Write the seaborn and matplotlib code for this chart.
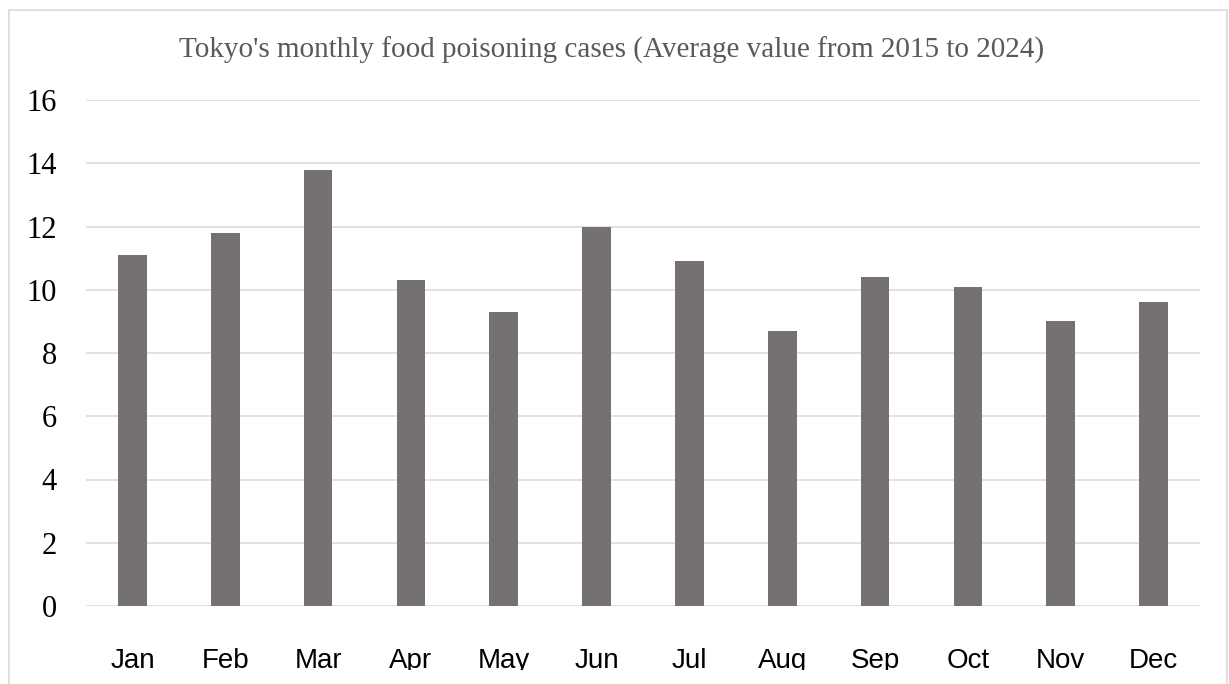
import matplotlib
matplotlib.use("Agg")
import matplotlib.pyplot as plt
import seaborn as sns
import pandas as pd
from matplotlib.patches import Rectangle

# Datos
months = ["Jan", "Feb", "Mar", "Apr", "May", "Jun",
          "Jul", "Aug", "Sep", "Oct", "Nov", "Dec"]
cases = [11.1, 11.8, 13.8, 10.3, 9.3, 12.0, 10.9, 8.7, 10.4, 10.1, 9.0, 9.6]
y_ticks = [0, 2, 4, 6, 8, 10, 12, 14, 16]
title = "Tokyo's monthly food poisoning cases (Average value from 2015 to 2024)"

df = pd.DataFrame({"month": months, "cases": cases})

sns.set_style("white")
plt.rcParams["font.family"] = ["Liberation Serif", "DejaVu Serif"]

W, H = 1229, 684
fig = plt.figure(figsize=(W / 100, H / 100), dpi=100)
ax = fig.add_axes([86 / W, 1 - 606 / H, (1200 - 86) / W, (606 - 100) / H])

sns.barplot(data=df, x="month", y="cases", color="#767171", saturation=1,
            width=0.31, edgecolor="none", ax=ax)

ax.set_ylim(0, 16)
ax.set_xlim(-0.5, len(months) - 0.5)
ax.set_yticks(y_ticks)
ax.yaxis.grid(True, color="#d9d9d9", linewidth=1.1)
ax.set_axisbelow(True)
for s in ax.spines.values():
    s.set_visible(False)
ax.set_xlabel("")
ax.set_ylabel("")

ax.tick_params(axis="y", length=0, pad=21, labelsize=22, labelcolor="black")
ax.tick_params(axis="x", length=0, pad=30)
for lbl in ax.get_xticklabels():
    lbl.set_fontfamily(["Liberation Sans", "DejaVu Sans"])
    lbl.set_fontsize(20)
    lbl.set_color("black")

fig.text(0.4975, 1 - 50 / H, title, ha="center", va="center",
         fontsize=21, color="#595959")

# el gráfico original está recortado por debajo (se cortan las letras)
fig.patches.append(Rectangle((10 / W, -0.01), (1226 - 10) / W, (684 - 670) / H + 0.01,
                             transform=fig.transFigure, facecolor="white",
                             edgecolor="none", zorder=1))
# marco gris del gráfico
fig.patches.append(Rectangle((9 / W, -0.1), (1227 - 9) / W, 1.1 - 10 / H,
                             transform=fig.transFigure, fill=False,
                             edgecolor="#d9d9d9", linewidth=1.2, zorder=2))

fig.savefig("out.png", dpi=100)
